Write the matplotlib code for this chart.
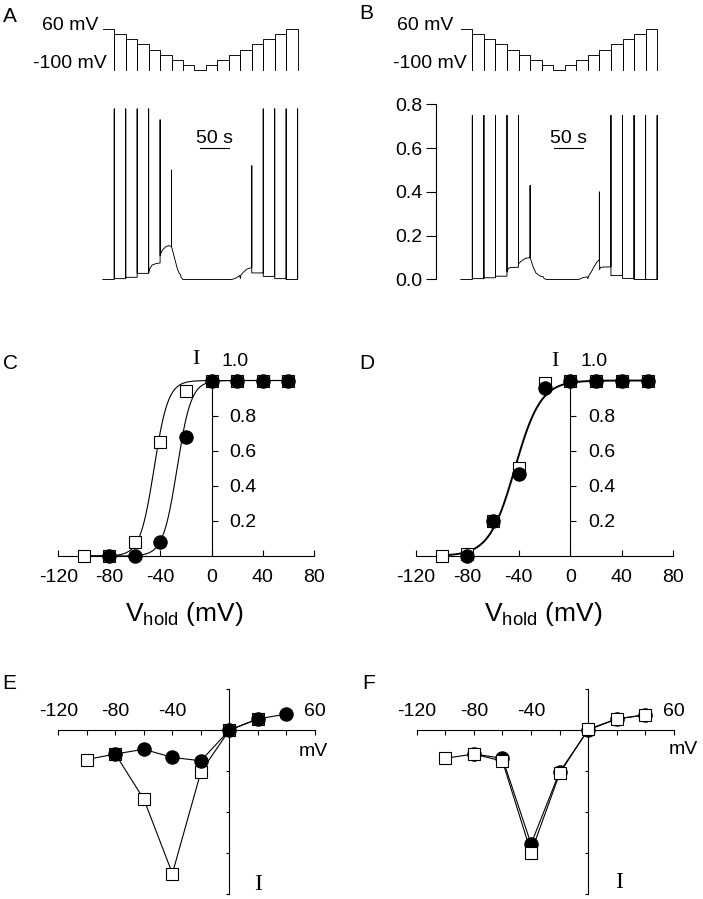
import numpy as np
import matplotlib.pyplot as plt

plt.rcParams['font.family'] = ['Liberation Sans', 'DejaVu Sans']
plt.rcParams['mathtext.fontset'] = 'custom'
plt.rcParams['mathtext.rm'] = 'Liberation Sans'
plt.rcParams['axes.unicode_minus'] = False
plt.rcParams['font.size'] = 14
plt.rcParams['axes.linewidth'] = 0.8

W, H = 703, 899

# ---- A / B : holding potential protocol (mV), one step every 20 s
step_s = 20
hold_mV = [60, 40, 20, 0, -20, -40, -60, -80, -100, -80, -60, -40, -20, 0, 20, 40, 60]

# current traces: baseline knots (time s, current) and clipped test-pulse spikes
a_knot_t = [0, 20, 20, 40, 40, 60, 60, 80, 80, 82, 86, 92, 100, 100, 104, 110, 116, 120,
            120, 122, 126, 130, 133, 135, 137, 140, 225, 232, 239, 240, 241, 246, 252, 260,
            260, 280, 280, 300, 300, 320, 320, 340, 340]
a_knot_i = [0, 0, 0.004, 0.004, 0.01, 0.01, 0.028, 0.028, 0.03, 0.05, 0.066, 0.072, 0.076,
            0.11, 0.135, 0.15, 0.155, 0.15, 0.15, 0.13, 0.09, 0.05, 0.03, 0.025, 0.008, 0.0,
            0.0, 0.006, 0.018, 0.004, 0.02, 0.035, 0.048, 0.055, 0.03, 0.03, 0.014, 0.014,
            0.004, 0.004, 0.0, 0.0, 0.0]
a_spike_t = [20, 40, 60, 80, 100, 120, 260, 280, 300, 320, 340]
a_spike_i = [0.78, 0.78, 0.78, 0.78, 0.73, 0.50, 0.52, 0.78, 0.78, 0.78, 0.78]

b_knot_t = [0, 20, 20, 40, 40, 60, 60, 80, 80, 82, 86, 100, 100, 105, 112, 120,
            120, 122, 125, 130, 138, 143, 144, 148, 204, 212, 219, 220, 222, 226, 231, 236, 240,
            240, 242, 260, 260, 280, 280, 300, 300, 320, 320, 340, 340]
b_knot_i = [0, 0, 0.004, 0.004, 0.008, 0.008, 0.015, 0.015, 0.035, 0.05, 0.055, 0.056,
            0.072, 0.085, 0.097, 0.10, 0.10, 0.085, 0.06, 0.03, 0.015, 0.012, 0.005, 0.0,
            0.0, 0.009, 0.012, 0.004, 0.02, 0.035, 0.06, 0.08, 0.09, 0.045, 0.056, 0.058,
            0.018, 0.018, 0.005, 0.005, 0.0, 0.0, 0.0, 0.0, 0.0]
b_spike_t = [20, 40, 60, 80, 100, 120, 240, 260, 280, 300, 320, 340]
b_spike_i = [0.75, 0.75, 0.75, 0.75, 0.75, 0.43, 0.40, 0.75, 0.75, 0.75, 0.75, 0.75]

b_yticks = [0.0, 0.2, 0.4, 0.6, 0.8]
scalebar_s = 50

# ---- C / D : normalised current vs holding potential
c_sq_v = [-100, -80, -60, -40, -20, 0, 20, 40, 60]
c_sq = [0.0, 0.0, 0.08, 0.65, 0.94, 1.0, 1.0, 1.0, 1.0]
c_ci_v = [-80, -60, -40, -20, 0, 20, 40, 60]
c_ci = [0.0, 0.0, 0.078, 0.68, 1.0, 1.0, 1.0, 1.0]
c_fit_sq = (-45.0, 5.5)   # V1/2, slope
c_fit_ci = (-27.0, 5.5)

d_sq_v = [-100, -80, -60, -40, -20, 0, 20, 40, 60]
d_sq = [0.0, 0.01, 0.2, 0.50, 0.985, 1.0, 1.0, 1.0, 1.0]
d_ci_v = [-80, -60, -40, -20, 0, 20, 40, 60]
d_ci = [0.0, 0.2, 0.466, 0.955, 1.0, 1.0, 1.0, 1.0]
d_fit = (-43.0, 10.0)

cd_xticks = [-120, -80, -40, 0, 40, 80]
cd_yticks = [0.2, 0.4, 0.6, 0.8]

# ---- E / F : I-V relations
e_sq_v = [-100, -80, -60, -40, -20, 0, 20]
e_sq = [-0.72, -0.585, -1.69, -3.5, -1.02, 0.0, 0.27]
e_ci_v = [-80, -60, -40, -20, 0, 20, 40]
e_ci = [-0.585, -0.47, -0.67, -0.75, 0.0, 0.27, 0.39]

f_sq_v = [-100, -80, -60, -40, -20, 0, 20, 40]
f_sq = [-0.69, -0.585, -0.76, -2.99, -1.06, 0.02, 0.27, 0.37]
f_ci_v = [-80, -60, -40, -20, 0, 20, 40]
f_ci = [-0.585, -0.69, -2.78, -1.02, 0.0, 0.27, 0.37]

ef_xticks = [-120, -100, -80, -60, -40, -20, 0, 20, 40, 60]
ef_xlabels = ['-120', '', '-80', '', '-40', '', '', '', '', '60']
ef_yticks = [1, -1, -2, -3, -4]


def build_protocol(levels, dt):
    floor = min(levels)
    t, v = [0], [levels[0]]
    for n in range(1, len(levels)):
        tb = n * dt
        t += [tb, tb, tb]
        v += [levels[n - 1], floor, levels[n]]
    tend = len(levels) * dt
    t += [tend, tend]
    v += [levels[-1], floor]
    return t, v


def build_trace(knot_t, knot_i, spike_t, spike_i):
    peaks = dict(zip(spike_t, spike_i))
    t, i = [knot_t[0]], [knot_i[0]]
    for k in range(1, len(knot_t)):
        if knot_t[k] == knot_t[k - 1] and knot_t[k] in peaks:
            t.append(knot_t[k])
            i.append(peaks[knot_t[k]])
        t.append(knot_t[k])
        i.append(knot_i[k])
    return t, i


def boltzmann(v, vh, k):
    return 1.0 / (1.0 + np.exp((vh - v) / k))


fig = plt.figure(figsize=(W / 100, H / 100), dpi=100)


def px_axes(x0, x1, ytop, ybot, xlim, ylim):
    ax = fig.add_axes([x0 / W, 1 - ybot / H, (x1 - x0) / W, (ybot - ytop) / H])
    ax.set_xlim(xlim)
    ax.set_ylim(ylim)
    ax.patch.set_visible(False)
    return ax


def ftext(x, y, s, **kw):
    fig.text(x / W, 1 - y / H, s, **kw)


lw = 0.65

# ================= A and B =================
prot_t, prot_v = build_protocol(hold_mV, step_s)
t_end = len(hold_mV) * step_s

for (t0px, scale, knots_t, knots_i, sp_t, sp_i, bar_t0, axis_px) in [
        (102.8, 0.573, a_knot_t, a_knot_i, a_spike_t, a_spike_i, 170, None),
        (460.8, 0.5775, b_knot_t, b_knot_i, b_spike_t, b_spike_i, 161, 436)]:
    x1 = t0px + t_end * scale
    axp = px_axes(t0px, x1, 29, 70, (0, t_end), (-100, 60))
    axp.plot(prot_t, prot_v, color='black', lw=lw, clip_on=False)
    axp.axis('off')

    left = t0px if axis_px is None else axis_px
    axc = px_axes(left, x1, 104.5, 279.5,
                  (-(t0px - left) / scale, t_end), (0, 0.8))
    tr_t, tr_i = build_trace(knots_t, knots_i, sp_t, sp_i)
    axc.plot(tr_t, tr_i, color='black', lw=lw, clip_on=False)
    axc.plot([bar_t0, bar_t0 + scalebar_s], [0.60, 0.60], color='black', lw=0.8)
    axc.text(bar_t0 + scalebar_s / 2, 0.625, '%d s' % scalebar_s,
             ha='center', va='baseline', fontsize=14)
    for s in ['top', 'right', 'bottom']:
        axc.spines[s].set_visible(False)
    axc.set_xticks([])
    if axis_px is None:
        axc.spines['left'].set_visible(False)
        axc.set_yticks([])
    else:
        axc.set_yticks(b_yticks)
        axc.set_yticklabels(['%.1f' % v for v in b_yticks])
        axc.tick_params(axis='y', direction='out', length=7, width=0.8, pad=3,
                        labelsize=14)

ftext(98, 26, '60 mV', ha='right', va='center')
ftext(107, 63.5, '-100 mV', ha='right', va='center')
ftext(453, 25, '60 mV', ha='right', va='center')
ftext(467, 63.5, '-100 mV', ha='right', va='center')

# ================= C and D =================
fit_v = np.linspace(-100, 60, 400)


def iv_norm_axes(x0, x1):
    ax = px_axes(x0, x1, 380.5, 556, (-120, 80), (0, 1))
    ax.spines['top'].set_visible(False)
    ax.spines['left'].set_visible(False)
    ax.spines['right'].set_position(('data', 0))
    ax.spines['right'].set_bounds(0, 1.02)
    ax.yaxis.tick_right()
    ax.set_xticks(cd_xticks)
    ax.set_xticklabels([str(v) for v in cd_xticks])
    ax.set_yticks(cd_yticks)
    ax.set_yticklabels(['%.1f' % v for v in cd_yticks])
    ax.tick_params(axis='x', direction='in', length=4, width=0.8, pad=9, labelsize=14)
    ax.tick_params(axis='y', direction='out', length=4, width=0.8, pad=9, labelsize=14)
    return ax


sq_kw = dict(marker='s', ms=8.2, mfc='white', mec='black', mew=0.8, ls='none', clip_on=False)
ci_kw = dict(marker='o', ms=9.6, mfc='black', mec='black', mew=0.8, ls='none', clip_on=False)

axC = iv_norm_axes(58.3, 313.7)
axC.plot(fit_v, boltzmann(fit_v, *c_fit_sq), color='black', lw=0.8, zorder=2, clip_on=False)
axC.plot(fit_v, boltzmann(fit_v, *c_fit_ci), color='black', lw=0.8, zorder=2, clip_on=False)
axC.plot(c_sq_v, c_sq, zorder=3, **sq_kw)
axC.plot(c_ci_v, c_ci, zorder=4, **ci_kw)

axD = iv_norm_axes(415.8, 673.3)
axD.plot(fit_v, boltzmann(fit_v, *d_fit), color='black', lw=1.4, zorder=2, clip_on=False)
axD.plot(d_sq_v, d_sq, zorder=3, **sq_kw)
axD.plot(d_ci_v, d_ci, zorder=4, **ci_kw)

for xc in [184, 543]:
    ftext(xc, 614, r'V$_{\mathrm{hold}}$ (mV)', ha='center', va='center', fontsize=19)
ftext(235, 362, '1.0', ha='center', va='center')
ftext(594, 362, '1.0', ha='center', va='center')
ftext(196, 360, 'I', ha='center', va='center', family='Liberation Serif', fontsize=16)
ftext(555, 361, 'I', ha='center', va='center', family='Liberation Serif', fontsize=16)

# ================= E and F =================


def iv_axes(x0, x1):
    ax = px_axes(x0, x1, 689, 894, (-120, 60), (-4, 1))
    ax.spines['bottom'].set_visible(False)
    ax.spines['right'].set_visible(False)
    ax.spines['top'].set_position(('data', 0))
    ax.spines['left'].set_position(('data', 0))
    ax.xaxis.tick_top()
    ax.set_xticks(ef_xticks)
    ax.set_xticklabels(ef_xlabels)
    ax.set_yticks(ef_yticks)
    ax.set_yticklabels([])
    ax.tick_params(axis='x', direction='in', length=3.5, width=0.8, pad=7, labelsize=14)
    ax.tick_params(axis='y', direction='out', length=2.5, width=0.8)
    return ax


sq_line = dict(sq_kw, ls='-', color='black', lw=0.8)
ci_line = dict(ci_kw, ls='-', color='black', lw=0.8)

axE = iv_axes(58.3, 315)
axE.plot(e_sq_v, e_sq, zorder=3, **sq_line)
axE.plot(e_ci_v, e_ci, zorder=4, **ci_line)

axF = iv_axes(416.7, 674)
axF.plot(f_ci_v, f_ci, zorder=3, **ci_line)
axF.plot(f_sq_v, f_sq, zorder=4, **sq_line)

ftext(313, 752, 'mV', ha='center', va='center')
ftext(683, 749, 'mV', ha='center', va='center')
ftext(258, 885, 'I', ha='center', va='center', family='Liberation Serif', fontsize=17)
ftext(619, 882, 'I', ha='center', va='center', family='Liberation Serif', fontsize=17)

# panel letters
for x, y, lab in [(3, 7, 'A'), (359, 4, 'B'), (3, 354, 'C'), (359, 354, 'D'),
                  (2, 674, 'E'), (362, 674, 'F')]:
    ftext(x, y, lab, ha='left', va='top', fontsize=15)

fig.savefig('out.png', dpi=100)
